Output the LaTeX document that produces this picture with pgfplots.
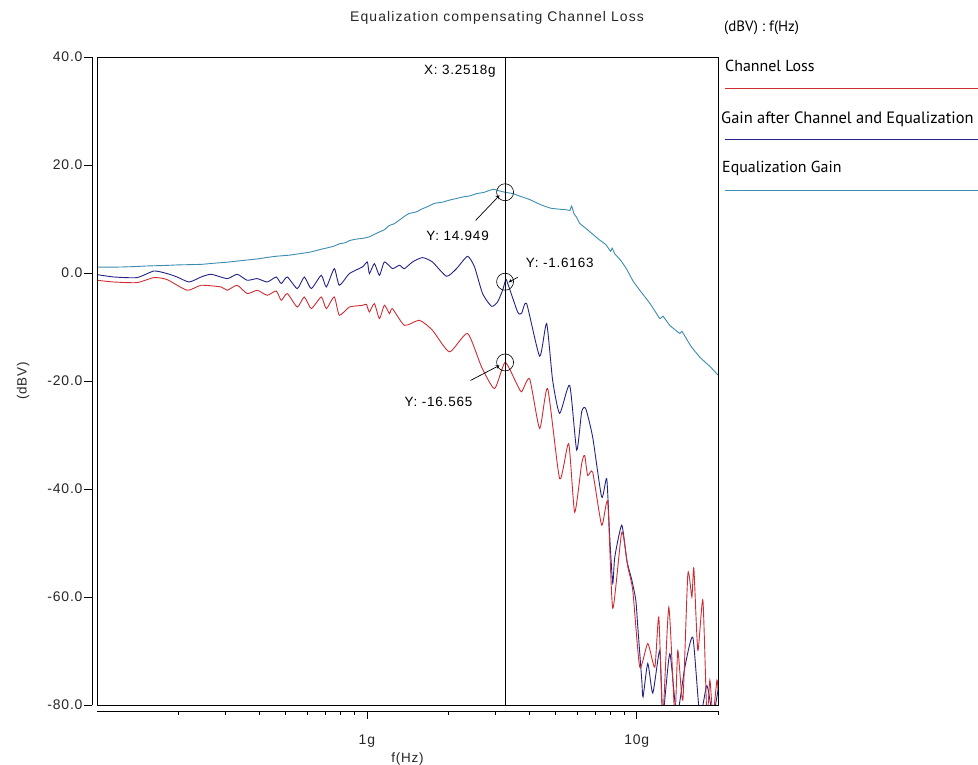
\documentclass[border=0pt]{standalone}
\usepackage{fontspec}
\setmainfont{Liberation Sans}
\newfontfamily\legfont{PT Sans}
\newfontfamily\spaced[LetterSpace=6]{Liberation Sans}
\usepackage{pgfplots}
\pgfplotsset{compat=1.18}
\definecolor{chred}{RGB}{205,45,50}
\definecolor{chnavy}{RGB}{35,35,135}
\definecolor{chteal}{RGB}{60,140,175}
\pgfplotstableread{
f db
0.1 1.1
0.12 1.1
0.14 1.2
0.1533 1.3
0.18 1.4
0.2 1.5
0.2431 1.6
0.27 1.8
0.3037 2.0
0.33 2.2
0.36 2.4
0.3924 2.6
0.43 2.9
0.4614 3.1
0.5158 3.3
0.55 3.5
0.5863 3.7
0.62 3.9
0.6777 4.4
0.72 4.7
0.7573 5.0
0.7906 5.4
0.83 5.6
0.8612 6.0
0.92 6.3
0.9622 6.4
1.0216 6.7
1.07 7.2
1.1128 7.6
1.16 8.0
1.2121 8.8
1.26 9.1
1.3199 9.8
1.37 10.4
1.43 11.0
1.52 11.3
1.6068 11.9
1.68 12.3
1.78 12.9
1.9 13.1
2.0236 13.5
2.15 13.8
2.28 14.1
2.42 14.3
2.549 14.7
2.7 14.9
2.85 15.3
2.95 15.5
3.1 15.2
3.2518 14.949
3.4674 14.7
3.7 14.2
4.009 13.6
4.25 13.0
4.4803 12.5
4.8 12.0
5.2 11.8
5.4994 11.7
5.65 11.6
5.739 12.4
5.85 11.0
5.99 10.3
6.1446 9.2
6.5 8.2
6.75 7.5
7.2895 6.1
7.7 5.2
8.0 4.0
8.1 4.6
8.3 3.5
8.7 2.4
9.2 0.6
9.665 -1.4
10.26 -3.2
11.175 -5.6
12.17 -8.4
12.5 -8.0
13.26 -9.7
14.443 -11.2
14.7 -10.8
15.8 -13.4
17.13 -15.6
18.66 -17.3
20 -18.9
}\eqgain
\pgfplotstableread{
f db
0.1 -0.3
0.1156 -0.74
0.1407 -0.85
0.1627 0.37
0.1818 -0.11
0.1981 -0.74
0.2195 -1.67
0.2431 -0.74
0.2649 -0.24
0.3037 -1.04
0.3308 -0.24
0.3602 -1.35
0.3924 -1.04
0.4273 -1.67
0.4614 -0.74
0.4817 -1.96
0.507 -0.74
0.5522 -2.89
0.5863 -0.74
0.6222 -2.89
0.6777 -0.43
0.7076 -2.59
0.7573 0.81
0.7906 -2.28
0.8612 -0.11
0.9622 1.11
1.004 2.04
1.0216 -0.11
1.0662 1.74
1.1128 -0.43
1.1613 2.04
1.2435 0.81
1.3199 1.43
1.3775 0.81
1.4752 2.04
1.6068 2.85
1.7498 2.04
1.9724 -0.61
2.1483 0.81
2.3604 3.09
2.5059 1.11
2.683 -3.81
2.8973 -6.17
3.0496 -5.37
3.183 -3.2
3.2518 -1.6163
3.2943 -1.35
3.6185 -7.22
3.7444 -7.46
3.9077 -5.67
4.3672 -15.4
4.6345 -9.37
4.8788 -19.9
5.1798 -26.0
5.642 -20.8
5.99 -32.8
6.2504 -25.7
6.468 -25.1
6.8658 -30.4
7.4148 -41.5
7.7391 -38.1
7.9407 -48.9
8.1465 -57.5
8.29 -52.6
8.8002 -46.7
9.1836 -53.2
9.59 -56.9
9.92 -60.6
10.09 -65.6
10.437 -75.4
10.55 -78.5
10.985 -72.3
11.465 -77.8
12.171 -69.9
12.488 -82
13.258 -70.5
14.073 -82
15.073 -73.0
16.138 -67.5
17.13 -82
18.19 -76.4
19.15 -82
20 -77.2
}\aftereq
\pgfplotstableread{
f db
0.1 -1.35
0.1156 -1.67
0.1407 -1.78
0.1627 -0.85
0.1818 -1.22
0.2158 -3.2
0.2431 -2.28
0.2884 -2.59
0.3037 -3.2
0.3308 -2.28
0.3602 -3.81
0.3924 -3.2
0.4273 -4.13
0.4614 -3.33
0.4817 -5.06
0.507 -3.81
0.5522 -6.3
0.5863 -4.44
0.6222 -6.59
0.6777 -4.44
0.7076 -6.59
0.7573 -4.44
0.7906 -7.83
0.8612 -6.3
0.9622 -6.0
0.9957 -5.8
1.0216 -7.22
1.0662 -5.67
1.1128 -8.44
1.1613 -5.98
1.2121 -7.52
1.2435 -6.59
1.3775 -9.69
1.5662 -8.76
1.7498 -10.6
2.0236 -14.6
2.3604 -11.2
2.6603 -17.4
2.9724 -21.4
3.2518 -16.565
3.5877 -20.5
3.7444 -22.0
4.009 -19.6
4.3672 -28.8
4.6747 -21.4
5.1798 -38.1
5.5939 -31.6
5.8877 -44.3
6.2504 -35.3
6.413 -33.8
6.579 -37.5
6.8658 -36.9
7.4148 -46.7
7.8055 -42.4
8.1465 -62.1
8.8002 -48.0
9.2624 -54.4
9.665 -58.8
10.259 -73.0
10.985 -68.6
11.663 -73.0
12.067 -63.7
12.488 -82
13.145 -61.9
13.836 -82
14.194 -69.9
14.818 -79.1
15.464 -55.7
16.001 -60.0
16.277 -54.7
16.84 -69.9
17.58 -60.6
18.19 -82
18.66 -75.4
19.15 -82
19.81 -75.4
20 -77.2
}\chloss
\begin{document}
\begin{tikzpicture}[x=1bp,y=1bp]
\path[use as bounding box] (0,0) rectangle (978,765);
\begin{axis}[
  name=ax,
  at={(97bp,60bp)}, anchor=south west,
  scale only axis, width=621bp, height=648bp,
  xmode=log, xmin=0.1, xmax=20, ymin=-80, ymax=40,
  axis x line*=bottom, axis y line*=left,
  axis line style={draw=none},
  xtick style={yshift=-6bp, black, line width=0.6bp},
  ytick style={xshift=-5bp, black, line width=0.6bp},
  tick align=outside,
  major tick length=8bp, minor tick length=4bp,
  xtick={1,10}, xticklabels={1g,10g},
  minor xtick={0.2,0.3,0.4,0.5,0.6,0.7,0.8,0.9,2,3,4,5,6,7,8,9,20},
  ytick={-80,-60,-40,-20,0,20,40},
  yticklabels={-80.0,-60.0,-40.0,-20.0,0.0,20.0,40.0},
  tick label style={font=\spaced\fontsize{14}{16}\selectfont, text=black!85},
  xticklabel shift=18bp,
  yticklabel shift=3bp,
  xlabel={f(Hz)}, ylabel={(dBV)},
  label style={font=\spaced\fontsize{13.5}{15}\selectfont, text=black!85},
  xlabel style={at={(axis description cs:0.5,0)}, anchor=center, yshift=-54bp},
  ylabel style={at={(axis description cs:-0.119,0.5)}, anchor=center},
  clip=true,
]
\addplot[chteal, line width=0.9bp, smooth, tension=0.3] table[x=f, y=db] {\eqgain};
\addplot[chnavy, line width=0.9bp, smooth, tension=0.35] table[x=f, y=db] {\aftereq};
\addplot[chred, line width=0.9bp, smooth, tension=0.35] table[x=f, y=db] {\chloss};
\addplot[black, line width=0.7bp] coordinates {(3.2518,-80) (3.2518,40)};
\addplot[black, only marks, mark=o, mark size=8.5bp, mark options={line width=0.6bp}] coordinates {(3.2518,14.949) (3.2518,-1.6163) (3.2518,-16.565)};
\node[anchor=east, font=\spaced\fontsize{13.5}{15}\selectfont] at (axis cs:3.2518,37.35) [xshift=-6bp] {X: 3.2518g};
\node[font=\spaced\fontsize{13.5}{15}\selectfont] at (axis cs:2.167,6.8) {Y: 14.949};
\node[font=\spaced\fontsize{13.5}{15}\selectfont] at (axis cs:5.18,1.8) {Y: -1.6163};
\node[font=\spaced\fontsize{13.5}{15}\selectfont] at (axis cs:1.842,-23.9) {Y: -16.565};
\draw[-stealth, line width=0.7bp] (axis cs:2.527,9.72) -- (axis cs:3.102,14.39);
\draw[-stealth, line width=0.7bp] (axis cs:3.62,-0.8) -- (axis cs:3.35,-1.72);
\draw[-stealth, line width=0.7bp] (axis cs:2.42,-19.9) -- (axis cs:3.102,-17.1);
\end{axis}
\draw[black, line width=0.8bp] (ax.south west) rectangle (ax.north east);
\draw[black, line width=0.8bp] ([xshift=-5bp]ax.south west) -- ([xshift=-5bp]ax.north west);
\draw[black, line width=0.8bp] ([yshift=-6bp]ax.south west) -- ([yshift=-6bp]ax.south east);
\node[font=\addfontfeature{LetterSpace=8}\fontsize{14}{16}\selectfont, text=black!85] at (497,747) {Equalization compensating Channel Loss};
\node[anchor=west, inner sep=0pt, font=\legfont\fontsize{15}{17}\selectfont] at (724,737) {(dBV) : f(Hz)};
\node[anchor=west, inner sep=0pt, font=\legfont\fontsize{16}{18}\selectfont] at (725,699) {Channel Loss};
\draw[chred, line width=0.9bp] (725,677) -- (978,677);
\node[anchor=west, inner sep=0pt, font=\legfont\fontsize{16.5}{18}\selectfont] at (721,646) {Gain after Channel and Equalization};
\draw[chnavy, line width=0.9bp] (725,626) -- (978,626);
\node[anchor=west, inner sep=0pt, font=\legfont\fontsize{16}{18}\selectfont] at (722,597) {Equalization Gain};
\draw[chteal, line width=0.9bp] (725,575) -- (978,575);
\end{tikzpicture}
\end{document}
